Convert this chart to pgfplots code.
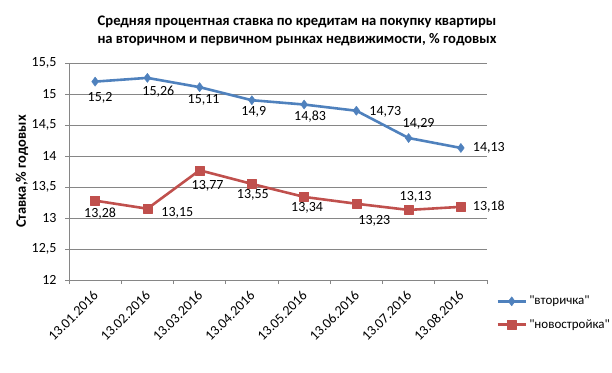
\documentclass[border=0pt]{standalone}
\usepackage{fontspec}
\setmainfont{Carlito}[Ligatures=TeXOff]
\usepackage{pgfplots}
\pgfplotsset{compat=1.18}
\definecolor{vblue}{HTML}{4F81BD}
\definecolor{nred}{HTML}{C0504D}
\definecolor{gridc}{HTML}{868686}
\newcommand{\lf}{\fontsize{14}{16}\selectfont}
\begin{document}
\begin{tikzpicture}
\path[use as bounding box] (0,0) rectangle (612pt,372pt);
\begin{axis}[
  at={(69pt,92pt)}, anchor=south west,
  scale only axis, width=418pt, height=217pt,
  xmin=-0.5, xmax=7.5, ymin=12, ymax=15.5,
  clip=false,
  axis x line=bottom, axis y line=left,
  axis line style={draw=gridc, -},
  ytick={12,12.5,13,13.5,14,14.5,15,15.5},
  ymajorgrids, grid style={gridc, line width=0.6pt},
  tick align=outside, major tick length=4pt,
  tick style={gridc, line width=0.6pt},
  xtick={-0.5,0.5,...,7.5}, xticklabels={},
  extra x ticks={0,1,2,3,4,5,6,7},
  extra x tick labels={13.01.2016,13.02.2016,13.03.2016,13.04.2016,13.05.2016,13.06.2016,13.07.2016,13.08.2016},
  extra x tick style={major tick length=0pt, tick label style={xshift=3pt, yshift=-11pt, rotate=45, anchor=east}},
  tick label style={font=\lf, text=black},
  yticklabel style={xshift=-5pt},
  /pgf/number format/.cd, use comma, 1000 sep={}, assume math mode=true, /pgfplots/.cd,
  ylabel={Ставка,\% годовых},
  ylabel style={at={(axis description cs:0,0.5)}, anchor=center, yshift=47pt, font=\bfseries\fontsize{14.5}{16}\selectfont},
  title={Средняя процентная ставка по кредитам на покупку квартиры\\на вторичном и первичном рынках недвижимости, \% годовых},
  title style={align=center, font=\bfseries\fontsize{14.6}{17.5}\selectfont, at={(0.5,1)}, anchor=south, xshift=19pt, yshift=8pt},
  legend style={at={(1,0)}, anchor=north west, xshift=9pt, yshift=-14pt, draw=none, fill=none, font=\fontsize{13}{15}\selectfont, legend cell align=left, row sep=9pt, inner sep=0pt},
  legend image code/.code={\draw[mark repeat=2,mark phase=2] plot coordinates {(0cm,0cm) (0.5cm,0cm) (1.0cm,0cm)};},
  nodes near coords, point meta=explicit symbolic,
  visualization depends on={\thisrow{dx} \as \dx},
  visualization depends on={\thisrow{dy} \as \dy},
  every node near coord/.append style={anchor=center, xshift=\dx pt, yshift=\dy pt, font=\lf, text=black},
]
\addplot[vblue, line width=2.6pt, line join=round, mark=diamond*, mark size=4.6pt, mark options={solid, fill=vblue, line width=0.4pt}] table[meta=lab] {
x y lab dx dy
0 15.20 15,2 5 -16
1 15.26 15,26 11 -14
2 15.11 15,11 4 -13
3 14.90 14,9 2 -12
4 14.83 14,83 6 -12
5 14.73 14,73 29 -1
6 14.29 14,29 10 14
7 14.13 14,13 28 0
};
\addplot[nred, line width=2.6pt, line join=round, mark=square*, mark size=4.5pt, mark options={solid, fill=nred, line width=0.4pt}] table[meta=lab] {
x y lab dx dy
0 13.28 13,28 5 -13
1 13.15 13,15 30 -4
2 13.77 13,77 8 -16
3 13.55 13,55 1 -11
4 13.34 13,34 3 -11
5 13.23 13,23 18 -17
6 13.13 13,13 7 13
7 13.18 13,18 28 0
};
\legend{{"вторичка"},{"новостройка"}}
\end{axis}
\end{tikzpicture}
\end{document}
